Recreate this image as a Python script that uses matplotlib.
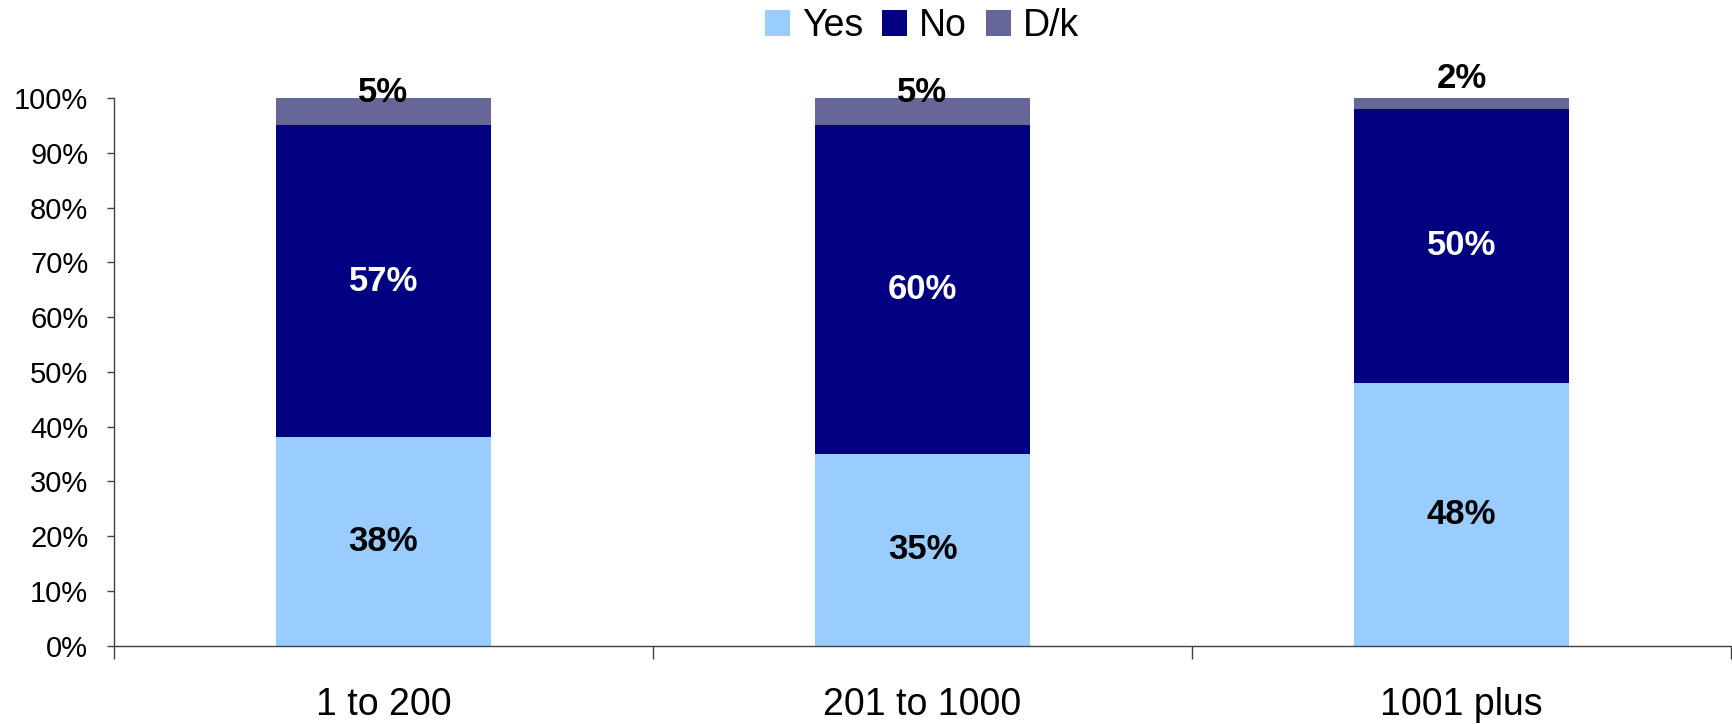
import numpy as np
import matplotlib
matplotlib.use('Agg')
import matplotlib.pyplot as plt
from matplotlib.ticker import FixedLocator, NullFormatter

plt.rcParams['font.family'] = ['Liberation Sans', 'DejaVu Sans']

# data
categories = ['1 to 200', '201 to 1000', '1001 plus']
yes = [38, 35, 48]
no = [57, 60, 50]
dk = [5, 5, 2]
series_names = ['Yes', 'No', 'D/k']
colors = ['#99CCFF', '#000080', '#666699']
label_colors = ['black', 'white', 'black']

fig = plt.figure(figsize=(17.33, 7.24), dpi=100)
ax = fig.add_axes([0.0658, 0.1084, 0.9330, 0.7562])

x = np.arange(len(categories))
width = 0.40
bottom = np.zeros(len(categories))
for vals, name, col, lcol in zip([yes, no, dk], series_names, colors, label_colors):
    vals = np.array(vals, dtype=float)
    ax.bar(x, vals, width, bottom=bottom, color=col, label=name, linewidth=0)
    if name != 'D/k':
        for xi, v, bt in zip(x, vals, bottom):
            ax.text(xi, bt + v / 2, '%d%%' % v, ha='center', va='center',
                    color=lcol, fontsize=25, fontweight='bold')
    else:
        # small segments: label sits just above the bar top
        offsets = [1.0, 1.0, 3.6]
        for xi, v, bt, off in zip(x, vals, bottom, offsets):
            ax.text(xi, bt + v + off, '%d%%' % v, ha='center', va='center',
                    color=lcol, fontsize=25, fontweight='bold')
    bottom = bottom + vals

ax.set_xlim(-0.5, len(categories) - 0.5)
ax.set_ylim(0, 100)
ax.set_yticks(np.arange(0, 101, 10))
ax.set_yticklabels(['%d%%' % v for v in range(0, 101, 10)], fontsize=21)

ax.set_xticks(x)
ax.set_xticklabels(categories, fontsize=27)
ax.tick_params(axis='x', which='major', length=0, pad=30)
ax.xaxis.set_minor_locator(FixedLocator(np.arange(-0.5, len(categories), 1.0)))
ax.xaxis.set_minor_formatter(NullFormatter())
ax.tick_params(axis='x', which='minor', length=9, width=1.0, color='#404040', direction='out')
ax.tick_params(axis='y', length=5, width=1.0, color='#404040', pad=13.5)

for s in ['top', 'right']:
    ax.spines[s].set_visible(False)
for s in ['left', 'bottom']:
    ax.spines[s].set_color('#404040')
    ax.spines[s].set_linewidth(1.0)

fig.legend(loc='center', bbox_to_anchor=(0.532, 0.964), ncol=3, frameon=False,
           fontsize=27, handlelength=0.67, handleheight=0.67, handletextpad=0.32,
           columnspacing=0.5, borderpad=0)

fig.savefig('out.png', dpi=100)
